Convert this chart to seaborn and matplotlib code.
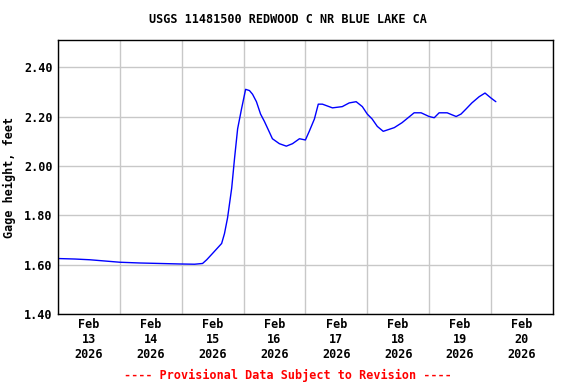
import numpy as np
import pandas as pd
import seaborn as sns
import matplotlib
matplotlib.use("Agg")
import matplotlib.pyplot as plt
from matplotlib.ticker import MultipleLocator, FixedLocator

# hours since Feb 13 2026 00:00, gage height in feet
hours = [0, 6.6, 12.4, 18.2, 24, 31.7, 39.5, 47.2, 53, 56.1, 57.7, 60, 63.5, 64.6,
         65.8, 67.4, 68.5, 69.7, 71.2, 72.8, 74.3, 75.5, 77, 78.6, 80.1, 82.1, 83.2,
         85.9, 88.6, 91, 93.7, 96, 97.5, 99.5, 101, 102.6, 106.5, 110.3, 113, 115.7,
         118.1, 120, 121.9, 123.9, 126.2, 130.5, 133.5, 138.2, 140.9, 144, 146,
         147.9, 151, 154.5, 156.4, 158.3, 160.6, 163.4, 165.7, 168, 169.9]
gage = [1.625, 1.623, 1.62, 1.615, 1.61, 1.607, 1.605, 1.603, 1.602, 1.605, 1.62,
        1.646, 1.686, 1.726, 1.79, 1.91, 2.03, 2.15, 2.23, 2.31, 2.305, 2.29, 2.26,
        2.21, 2.18, 2.135, 2.11, 2.09, 2.08, 2.09, 2.11, 2.105, 2.14, 2.19, 2.25,
        2.25, 2.235, 2.24, 2.255, 2.26, 2.24, 2.21, 2.19, 2.16, 2.14, 2.155, 2.175,
        2.215, 2.215, 2.20, 2.195, 2.215, 2.215, 2.20, 2.21, 2.23, 2.255, 2.28,
        2.295, 2.275, 2.26]
day_labels = ["Feb\n13\n2026", "Feb\n14\n2026", "Feb\n15\n2026", "Feb\n16\n2026",
              "Feb\n17\n2026", "Feb\n18\n2026", "Feb\n19\n2026", "Feb\n20\n2026"]
y_ticks = [1.40, 1.60, 1.80, 2.00, 2.20, 2.40]

df = pd.DataFrame({"hours": hours, "gage": gage})

sns.set_theme(style="whitegrid")
plt.rcParams["font.family"] = ["DejaVu Sans Mono"]
plt.rcParams["font.weight"] = "bold"
plt.rcParams["text.color"] = "black"
plt.rcParams["axes.labelcolor"] = "black"

fig = plt.figure(figsize=(5.76, 3.84), dpi=100)
ax = fig.add_axes([0.1007, 0.182, 0.859, 0.714])

sns.lineplot(data=df, x="hours", y="gage", color="#0000ff", linewidth=1.0, ax=ax)

ax.set_xlim(0, 192)
ax.set_ylim(1.40, 2.51)
ax.xaxis.set_major_locator(MultipleLocator(24))
ax.xaxis.set_major_formatter(plt.NullFormatter())
ax.xaxis.set_minor_locator(FixedLocator([12 + 24 * i for i in range(8)]))
ax.set_xticklabels(day_labels, minor=True)
ax.set_yticks(y_ticks)
ax.set_yticklabels([f"{v:.2f}" for v in y_ticks])
ax.tick_params(axis="both", which="both", length=0, labelsize=8.5, colors="black")
ax.tick_params(axis="x", which="minor", pad=3)
ax.tick_params(axis="y", pad=4)
ax.grid(True, which="major", color="#c8c8c8", linewidth=1.0)
ax.set_facecolor("white")
for s in ax.spines.values():
    s.set_color("black")
    s.set_linewidth(1.0)

ax.set_xlabel("")
ax.set_ylabel("Gage height, feet", fontsize=8.5, fontweight="bold", labelpad=6,
              color="black")
fig.text(0.5, 0.948, "USGS 11481500 REDWOOD C NR BLUE LAKE CA", ha="center",
         va="center", fontsize=8.5, fontweight="bold", color="black")
fig.text(0.5, 0.023, "---- Provisional Data Subject to Revision ----", ha="center",
         va="center", fontsize=8.5, fontweight="bold", color="red")

fig.savefig("out.png", dpi=100)
